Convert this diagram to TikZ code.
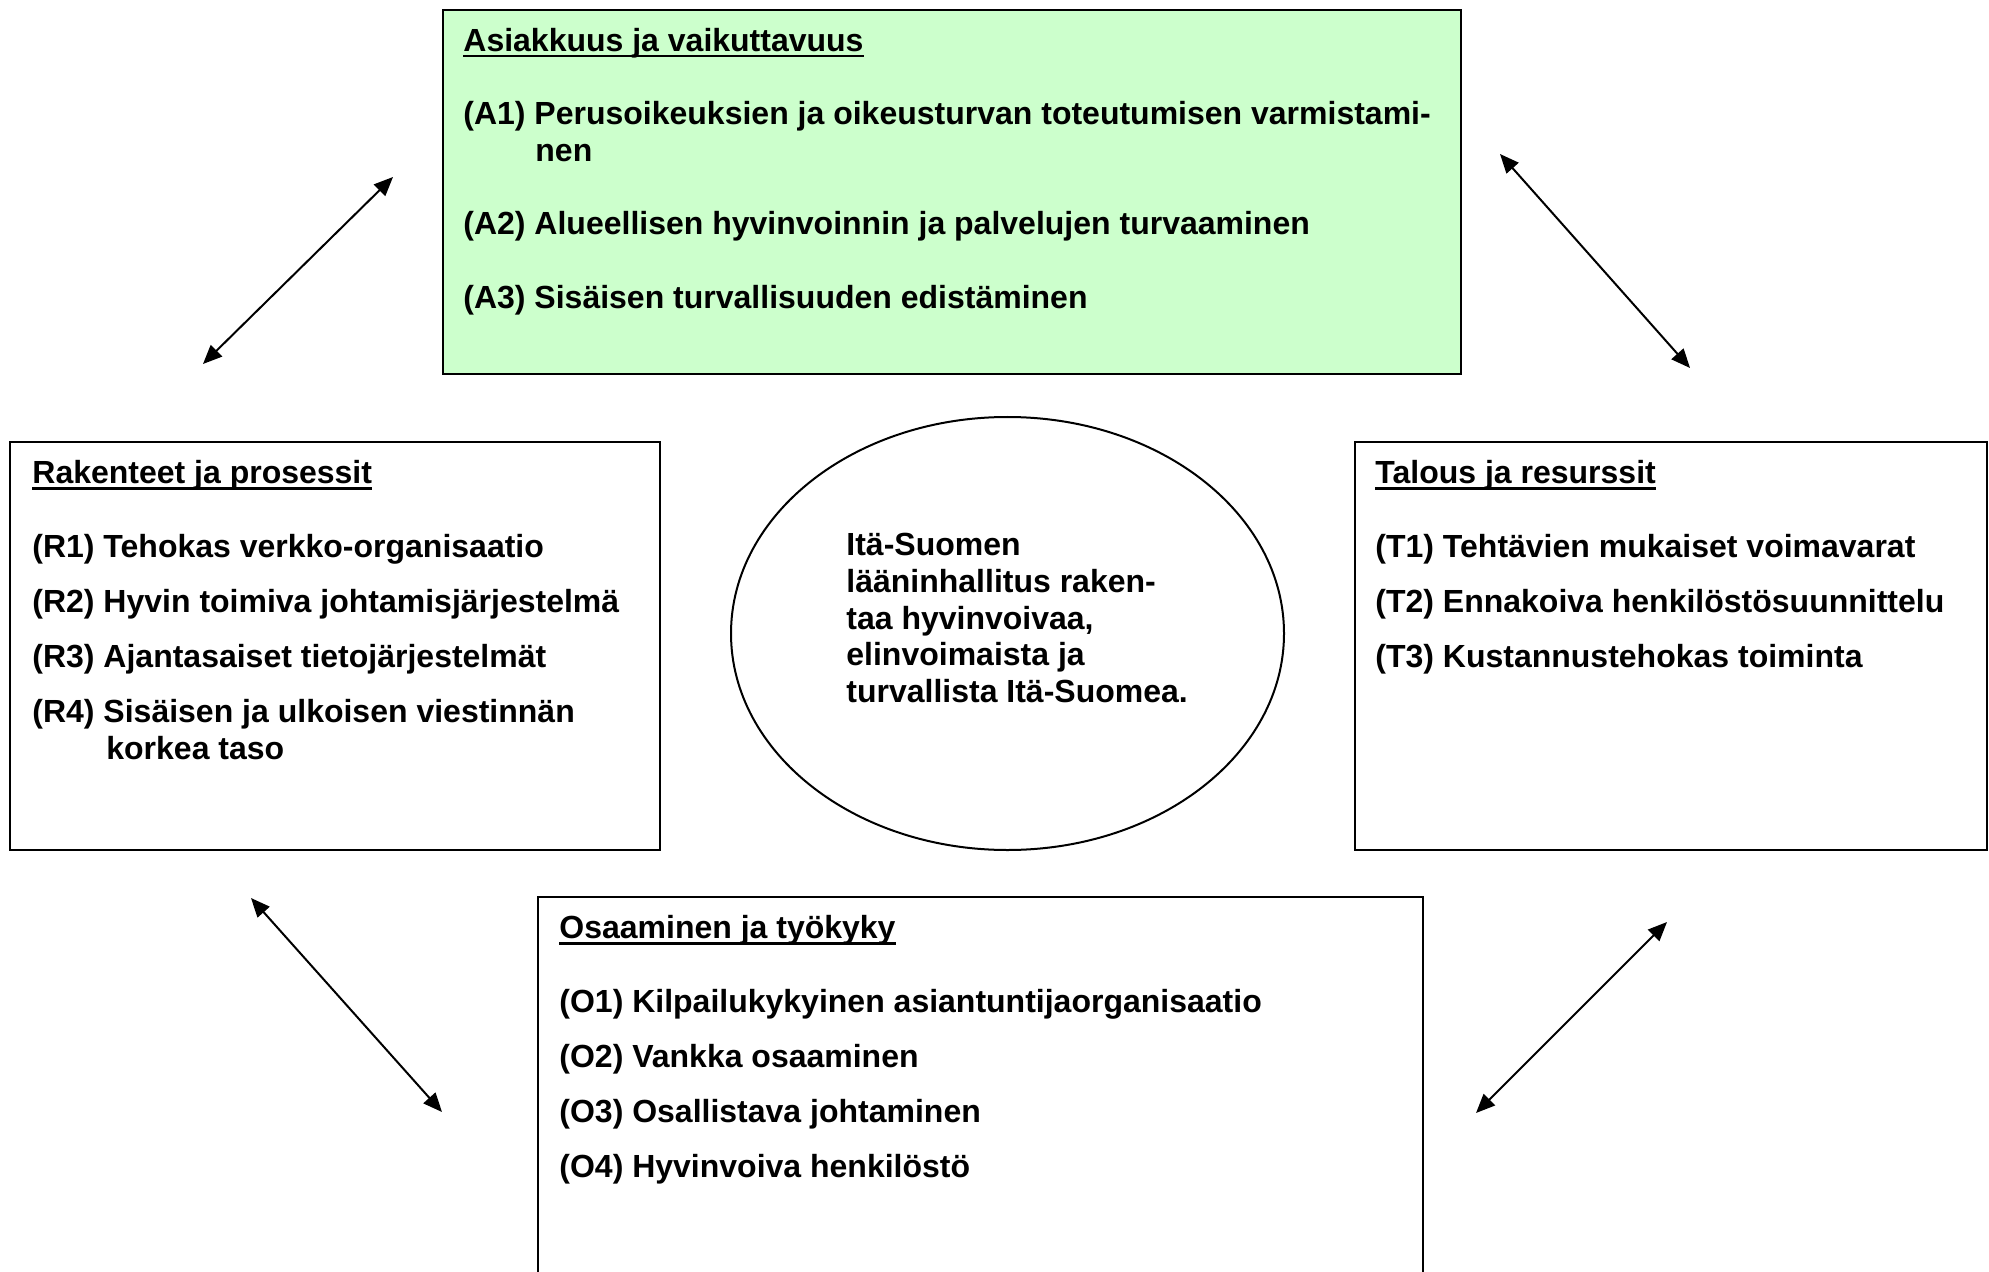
\documentclass[tikz,border=0pt]{standalone}
\usepackage{fontspec}
\setmainfont{Liberation Sans}
\usepackage{xcolor}
\usetikzlibrary{arrows.meta,shapes.geometric}
\definecolor{vaaleanvihrea}{HTML}{CCFFCC}
\newcommand{\otsikko}[1]{\setbox0\hbox{#1}\rlap{\rule[-3pt]{\wd0}{1.2pt}}#1}

\begin{document}
\begin{tikzpicture}[x=0.5pt,y=-0.5pt,
  laatikko/.style={draw=black,line width=1pt},
  teksti/.style={anchor=base west,inner sep=0pt,font=\fontsize{16}{18.4}\selectfont\bfseries},
  nuoli/.style={line width=1pt,{Triangle[length=9.5pt,width=8pt]}-{Triangle[length=9.5pt,width=8pt]}}]
  \useasboundingbox (0,0) rectangle (1989,1272);
  % laatikot ja visio
  \draw[laatikko,fill=vaaleanvihrea] (443,10) rectangle (1461,374);
  \draw[laatikko] (10,442) rectangle (660,850);
  \draw[laatikko] (1355,442) rectangle (1987,850);
  \draw[laatikko] (538,1280) |- (1423,897) -- (1423,1280);
  \node[draw,ellipse,line width=1pt,minimum width=276.5pt,minimum height=216.5pt,inner sep=0pt] (visio) at (1007.5,633.5) {};

  % asiakkuus
  \node[teksti] (A) at (463,51.5) {\otsikko{Asiakkuus ja vaikuttavuus}};
  \node[teksti] (A1) at (463,124.5) {(A1) Perusoikeuksien ja oikeusturvan toteutumisen varmistami-};
  \node[teksti] (A1b) at (535,161.5) {nen};
  \node[teksti] (A2) at (463,234.5) {(A2) Alueellisen hyvinvoinnin ja palvelujen turvaaminen};
  \node[teksti] (A3) at (463,308.5) {(A3) Sisäisen turvallisuuden edistäminen};

  % rakenteet
  \node[teksti] (R) at (32,483.5) {\otsikko{Rakenteet ja prosessit}};
  \foreach \t [count=\i] in {{Tehokas verkko-organisaatio},{Hyvin toimiva johtamisjärjestelmä},
      {Ajantasaiset tietojärjestelmät},{Sisäisen ja ulkoisen viestinnän}}
    \node[teksti] (R\i) at (32,{557.5+55*(\i-1)}) {(R\i) \t};
  \node[teksti] (R4b) at (106,759.5) {korkea taso};

  % talous
  \node[teksti] (T) at (1375,483.5) {\otsikko{Talous ja resurssit}};
  \foreach \t [count=\i] in {{Tehtävien mukaiset voimavarat},{Ennakoiva henkilöstösuunnittelu},
      {Kustannustehokas toiminta}}
    \node[teksti] (T\i) at (1375,{557.5+55*(\i-1)}) {(T\i) \t};

  % osaaminen
  \node[teksti] (O) at (559,938.5) {\otsikko{Osaaminen ja työkyky}};
  \foreach \t [count=\i] in {{Kilpailukykyinen asiantuntijaorganisaatio},{Vankka osaaminen},
      {Osallistava johtaminen},{Hyvinvoiva henkilöstö}}
    \node[teksti] (O\i) at (559,{1012.5+55*(\i-1)}) {(O\i) \t};

  % visioteksti
  \foreach \t [count=\i] in {{Itä-Suomen},{lääninhallitus raken-},{taa hyvinvoivaa,},
      {elinvoimaista ja},{turvallista Itä-Suomea.}}
    \node[teksti] (V\i) at (846,{555.5+36.8*(\i-1)}) {\t};

  % nuolet
  \coordinate (vy1) at (203,364);  \coordinate (vy2) at (393,177);
  \coordinate (oy1) at (1500,154); \coordinate (oy2) at (1690,368);
  \coordinate (va1) at (251,898);  \coordinate (va2) at (442,1112);
  \coordinate (oa1) at (1667,922); \coordinate (oa2) at (1476,1113);
  \draw[nuoli] (vy1) -- (vy2);
  \draw[nuoli] (oy1) -- (oy2);
  \draw[nuoli] (va1) -- (va2);
  \draw[nuoli] (oa1) -- (oa2);
\end{tikzpicture}
\end{document}
